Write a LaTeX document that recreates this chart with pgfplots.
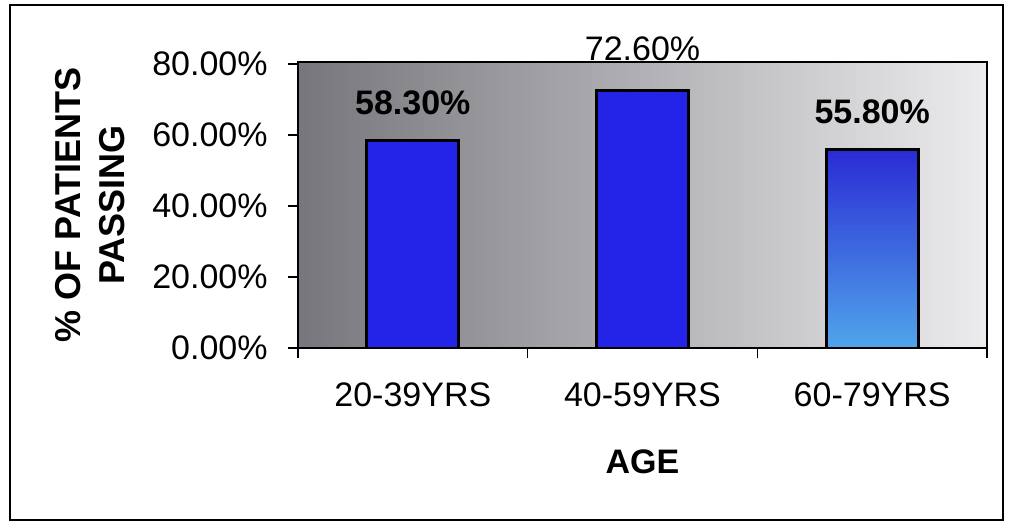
\documentclass[border=0pt]{standalone}
\usepackage{pgfplots}
\pgfplotsset{compat=1.18}
\usepackage{fontspec}
\setmainfont{Liberation Sans}

\definecolor{barblue}{RGB}{36,36,232}
\definecolor{bartop}{RGB}{42,44,212}
\definecolor{barbottom}{RGB}{80,165,235}

\begin{document}
\begin{tikzpicture}
% page 1010x525 px, 1 px = 0.5 pt
\path (0,0) rectangle (505pt,262.5pt);
\draw[line width=1.3pt] (5pt,2.5pt) rectangle (501.5pt,260pt);
\begin{axis}[
	at={(149pt,88.5pt)}, anchor=south west,
	scale only axis, width=344.5pt, height=143pt,
	xmin=0.5, xmax=3.5, ymin=0, ymax=80.5,
	font=\fontsize{17}{20}\selectfont,
	/pgf/number format/assume math mode=true,
	axis line style={line width=0.8pt},
	axis background/.style={left color={rgb,255:red,118;green,118;blue,124},
		middle color={rgb,255:red,150;green,150;blue,156},
		right color={rgb,255:red,236;green,236;blue,238}},
	tick align=outside, tick style={black, line width=0.8pt},
	xtick pos=bottom, ytick pos=left,
	ytick={0,20,40,60,80}, major tick length=5pt,
	yticklabel={\pgfmathprintnumber[fixed,fixed zerofill,precision=2]{\tick}\%},
	yticklabel style={anchor=east, inner sep=0pt, xshift=-10pt},
	xtick={0.5,1.5,2.5,3.5}, xticklabels={},
	extra x ticks={1,2,3},
	extra x tick labels={20-39YRS,40-59YRS,60-79YRS},
	extra x tick style={major tick length=0pt,
		xticklabel style={anchor=center, inner sep=0pt, yshift=-23.5pt}},
	xlabel={\bfseries AGE},
	xlabel style={at={(axis description cs:0.5,0)}, anchor=center, yshift=-57pt},
	ylabel={\% OF PATIENTS\\PASSING},
	ylabel style={at={(axis description cs:-0.302,0.5)}, anchor=center,
		align=center, font=\fontsize{18}{22}\selectfont\bfseries},
	nodes near coords={\pgfmathprintnumber[fixed,fixed zerofill,precision=2]{\pgfplotspointmeta}\%},
	every node near coord/.append style={inner sep=0pt, yshift=14pt, black},
	ybar, bar width=46pt,
]
\addplot[ybar, bar shift=0pt, fill=barblue, draw=black, line width=1.5pt,
	every node near coord/.append style={font=\fontsize{17}{20}\selectfont\bfseries, yshift=-2pt}]
	coordinates {(1,58.3)};
\addplot[ybar, bar shift=0pt, fill=barblue, draw=black, line width=1.5pt]
	coordinates {(2,72.6)};
\addplot[ybar, bar shift=0pt, top color=bartop, middle color=bartop!80!barbottom, bottom color=barbottom,
	draw=black, line width=1.5pt,
	every node near coord/.append style={font=\fontsize{17}{20}\selectfont\bfseries, yshift=-2pt}]
	coordinates {(3,55.8)};
\end{axis}
\end{tikzpicture}
\end{document}
